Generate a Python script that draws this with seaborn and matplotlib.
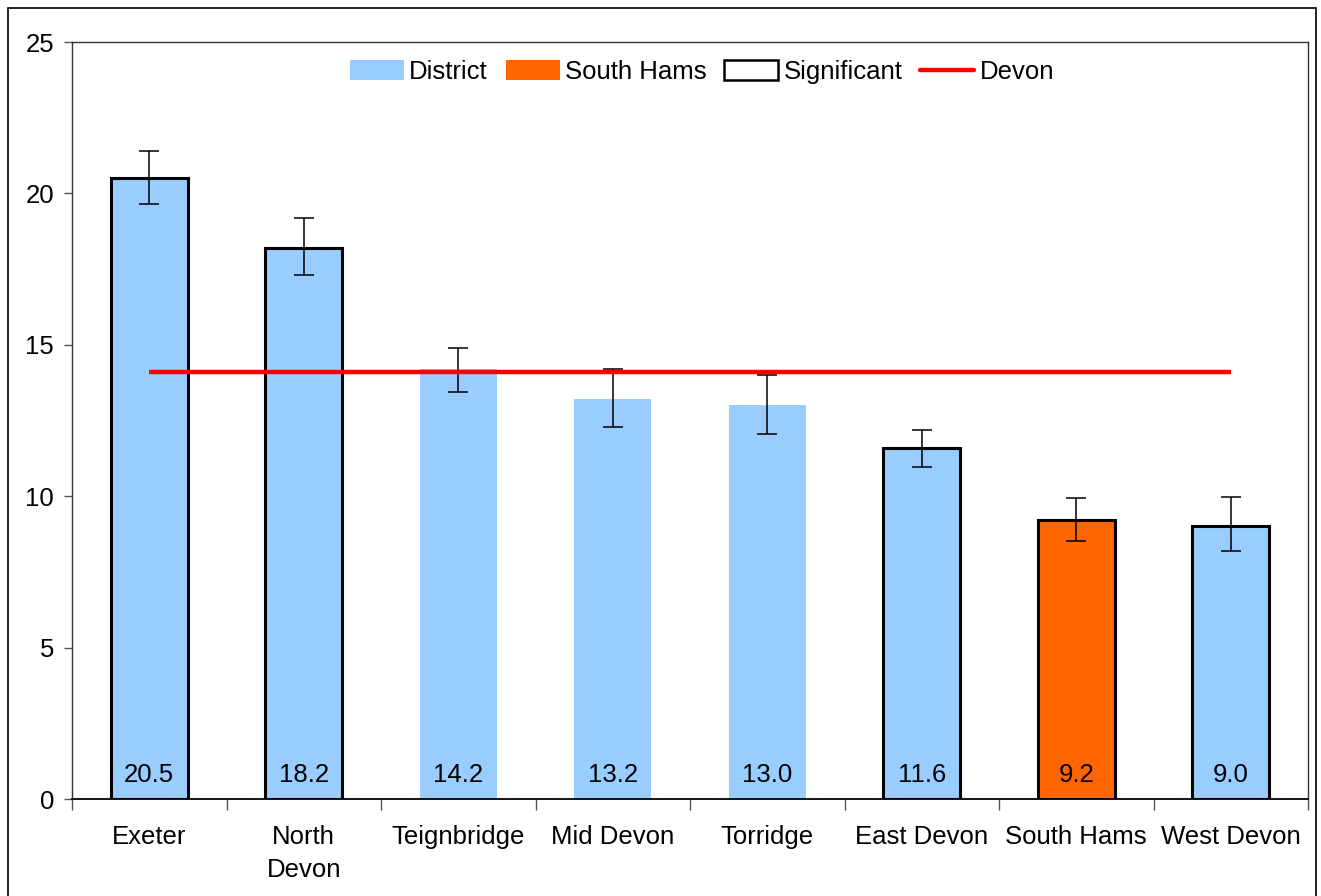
import matplotlib
matplotlib.use("Agg")
import matplotlib.pyplot as plt
import seaborn as sns
import pandas as pd
from matplotlib.patches import Patch, Rectangle
from matplotlib.lines import Line2D

districts = ["Exeter", "North\nDevon", "Teignbridge", "Mid Devon", "Torridge",
             "East Devon", "South Hams", "West Devon"]
values = [20.5, 18.2, 14.2, 13.2, 13.0, 11.6, 9.2, 9.0]
lower_ci = [19.65, 17.3, 13.45, 12.3, 12.05, 10.95, 8.53, 8.18]
upper_ci = [21.4, 19.2, 14.9, 14.2, 14.0, 12.2, 9.95, 9.96]
significant = [True, True, False, False, False, True, True, True]
highlight = "South Hams"
devon_value = 14.1
y_ticks = [0, 5, 10, 15, 20, 25]

district_color = "#99CCFF"
highlight_color = "#FF6600"

sns.set_style("white")
plt.rcParams["font.family"] = ["Liberation Sans", "DejaVu Sans"]
plt.rcParams["text.color"] = "black"
plt.rcParams["xtick.color"] = "black"
plt.rcParams["ytick.color"] = "black"
plt.rcParams["axes.labelcolor"] = "black"
FS = 18.5

df = pd.DataFrame({
    "district": districts,
    "value": values,
    "group": ["South Hams" if d == highlight else "District" for d in districts],
})

fig = plt.figure(figsize=(13.21, 8.96), dpi=100)
ax = fig.add_axes([72 / 1321, 1 - 799 / 896, (1308 - 72) / 1321, (799 - 42) / 896])

sns.barplot(data=df, x="district", y="value", hue="group",
            palette={"District": district_color, "South Hams": highlight_color},
            dodge=False, width=0.5, ax=ax, legend=False, saturation=1)

# edges for significant bars
for bar_patch in ax.patches:
    bar_patch.set_linewidth(0)
n = len(districts)
for bar_patch in ax.patches:
    cx = bar_patch.get_x() + bar_patch.get_width() / 2
    idx = int(round(cx))
    if 0 <= idx < n and significant[idx] and bar_patch.get_height() > 0:
        bar_patch.set_edgecolor("black")
        bar_patch.set_linewidth(2.2)

# error bars
xs = list(range(n))
yerr = [[v - l for v, l in zip(values, lower_ci)], [u - v for v, u in zip(values, upper_ci)]]
ax.errorbar(xs, values, yerr=yerr, fmt="none", ecolor="black", elinewidth=1.1,
            capsize=7, capthick=1.1, zorder=3)

# Devon line
ax.hlines(devon_value, xmin=0, xmax=n - 1, colors="#FF0000", linewidth=3.2, zorder=4)

# value labels
for i, v in enumerate(values):
    ax.text(i, 0.8, f"{v:.1f}", ha="center", va="center", fontsize=FS, color="black", zorder=5)

ax.set_xlim(-0.5, n - 0.5)
ax.set_ylim(0, 25)
ax.set_yticks(y_ticks)
ax.set_yticklabels([str(t) for t in y_ticks], fontsize=FS)
ax.set_xticks(xs)
ax.set_xticklabels(districts, fontsize=FS, va="top", linespacing=1.45)
ax.set_xticks([i - 0.5 for i in range(n + 1)], minor=True)
ax.tick_params(axis="x", which="major", length=0, pad=19)
ax.tick_params(axis="x", which="minor", length=8, width=1, color="#555555", direction="out", bottom=True)
ax.tick_params(axis="y", which="major", length=6, width=1, color="#555555", direction="out", left=True, pad=7)
ax.set_xlabel("")
ax.set_ylabel("")
for s in ax.spines.values():
    s.set_visible(True)
    s.set_color("#333333")
    s.set_linewidth(1.0)
ax.spines["bottom"].set_color("black")
ax.spines["bottom"].set_linewidth(1.3)

handles = [
    Patch(facecolor=district_color, edgecolor="none", label="District"),
    Patch(facecolor=highlight_color, edgecolor="none", label="South Hams"),
    Patch(facecolor="white", edgecolor="black", linewidth=1.8, label="Significant"),
    Line2D([0], [0], color="#FF0000", linewidth=3.2, label="Devon"),
]
fig.legend(handles=handles, loc="center", bbox_to_anchor=(702 / 1321, 1 - 72 / 896),
           ncol=4, frameon=False, fontsize=FS, handlelength=2.1, handleheight=0.8,
           handletextpad=0.2, columnspacing=0.7)

# outer border
fig.patches.append(Rectangle((8 / 1321, -0.02), (1316 - 8) / 1321, 1 - 8 / 896 + 0.02,
                             transform=fig.transFigure, fill=False,
                             edgecolor="black", linewidth=1.2, zorder=10))

fig.savefig("out.png", dpi=100)
